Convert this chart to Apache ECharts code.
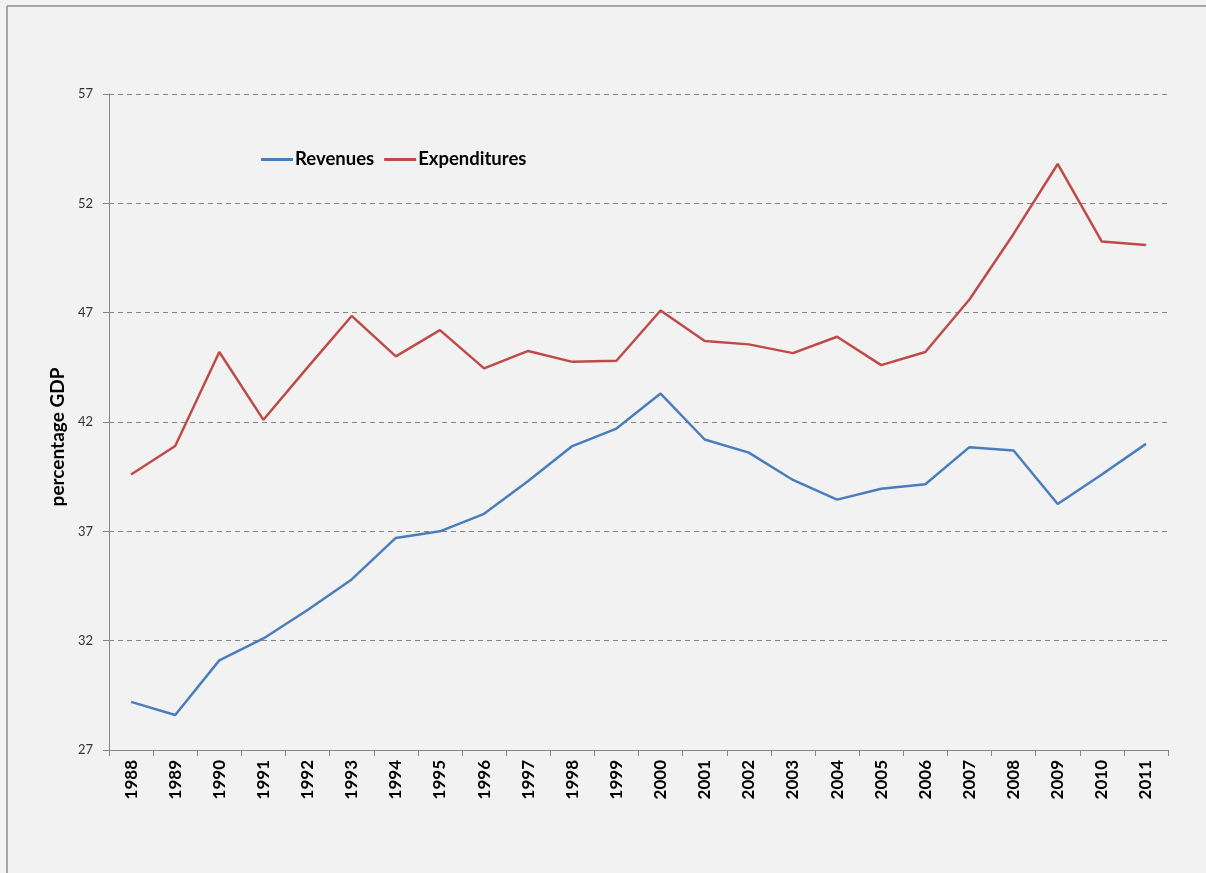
<!DOCTYPE html>
<html>
<head>
<meta charset="utf-8">
<script src="https://cdn.jsdelivr.net/npm/echarts@6/dist/echarts.min.js"></script>
<style>
  html, body { margin: 0; padding: 0; background: #f2f2f2; }
  #main { width: 1206px; height: 873px; }
</style>
</head>
<body>
<div id="main"></div>
<script>
var years = ['1988','1989','1990','1991','1992','1993','1994','1995','1996','1997','1998','1999',
             '2000','2001','2002','2003','2004','2005','2006','2007','2008','2009','2010','2011'];
var revenues = [29.2, 28.6, 31.1, 32.1, 33.4, 34.8, 36.7, 37.0, 37.8, 39.3, 40.9, 41.7,
                43.3, 41.2, 40.6, 39.35, 38.45, 38.95, 39.15, 40.85, 40.7, 38.25, 39.6, 41.0];
var expenditures = [39.6, 40.9, 45.2, 42.1, 44.5, 46.85, 45.0, 46.2, 44.45, 45.25, 44.75, 44.8,
                    47.1, 45.7, 45.55, 45.15, 45.9, 44.6, 45.2, 47.6, 50.6, 53.8, 50.25, 50.1];
var yTicks = { min: 27, max: 57, step: 5 };

var myChart = echarts.init(document.getElementById('main'));
var option = {
    backgroundColor: '#f2f2f2',
    animation: false,
    graphic: [
        { type: 'line', shape: { x1: 7, y1: 6, x2: 1206, y2: 6 }, style: { stroke: '#a6a6a6', lineWidth: 2 } },
        { type: 'line', shape: { x1: 7, y1: 6, x2: 7, y2: 873 }, style: { stroke: '#a6a6a6', lineWidth: 2 } },
        {
            type: 'text', x: 58, y: 437, rotation: Math.PI / 2,
            style: {
                text: 'percentage GDP', fontFamily: 'Lato', fontWeight: 'bold', fontSize: 19,
                fill: '#000', align: 'center', verticalAlign: 'middle'
            }
        }
    ],
    legend: {
        left: 256, top: 145,
        itemWidth: 32, itemHeight: 3, itemGap: 10,
        icon: 'rect',
        textStyle: { fontFamily: 'Lato', fontWeight: 'bold', fontSize: 18.5, color: '#000', padding: [0, 0, 0, -3] },
        data: ['Revenues', 'Expenditures']
    },
    grid: { left: 109, right: 38, top: 94, bottom: 123, containLabel: false },
    xAxis: {
        type: 'category',
        data: years,
        boundaryGap: true,
        axisLine: { lineStyle: { color: '#868686', width: 1 } },
        axisTick: { show: true, length: 6, lineStyle: { color: '#868686' } },
        axisLabel: {
            rotate: 90, interval: 0, margin: 10,
            fontFamily: 'Lato', fontWeight: 'bold', fontSize: 17, color: '#000'
        },
        splitLine: { show: false }
    },
    yAxis: {
        type: 'value',
        min: yTicks.min, max: yTicks.max, interval: yTicks.step,
        axisLine: { show: true, lineStyle: { color: '#868686', width: 1 } },
        axisTick: { show: true, length: 6, lineStyle: { color: '#868686' } },
        axisLabel: { margin: 16, fontFamily: 'Lato', fontSize: 13, color: '#333' },
        splitLine: { show: true, lineStyle: { color: '#868686', type: [5, 4], width: 1 } }
    },
    series: [
        {
            name: 'Revenues', type: 'line', data: revenues,
            showSymbol: false, symbol: 'none',
            lineStyle: { color: '#4a7ebb', width: 2.5 },
            itemStyle: { color: '#4a7ebb' }
        },
        {
            name: 'Expenditures', type: 'line', data: expenditures,
            showSymbol: false, symbol: 'none',
            lineStyle: { color: '#be4b48', width: 2.5 },
            itemStyle: { color: '#be4b48' }
        }
    ]
};
myChart.setOption(option);
</script>
</body>
</html>
